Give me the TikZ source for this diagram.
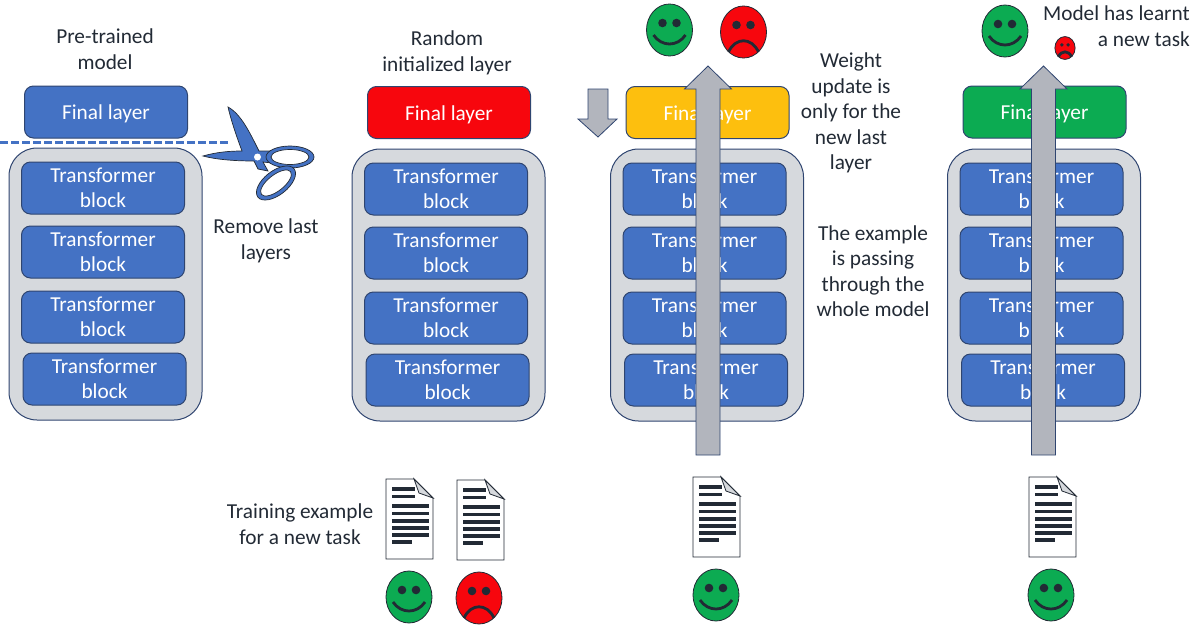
\documentclass[tikz,border=0pt]{standalone}
\usepackage{fontspec}
\setmainfont{Carlito}
\definecolor{blockblue}{HTML}{4472C4}
\definecolor{inkblue}{HTML}{222A35}
\definecolor{edgeblue}{HTML}{2F4570}
\definecolor{stackgray}{HTML}{D6D9DD}
\definecolor{flowgray}{HTML}{B2B5BD}
\definecolor{goodgreen}{HTML}{0CAB52}
\definecolor{badred}{HTML}{F7060D}
\definecolor{updateyellow}{HTML}{FDBF0E}
\tikzset{
  every node/.style={text=inkblue, align=center, inner sep=0pt, font=\fontsize{21.3}{25.4}\selectfont},
  stack/.style={draw=edgeblue, fill=stackgray, line width=1pt, rounded corners=28pt, minimum width=193pt, minimum height=272pt},
  layer/.style={draw=edgeblue, fill=blockblue, text=white, line width=1pt, rounded corners=9pt, minimum width=163pt, minimum height=52pt},
  flow/.style={draw=edgeblue, fill=flowgray, line width=0.8pt},
  happy/.pic={
    \draw [fill=goodgreen, draw=inkblue, line width=0.8pt] (0,0) ellipse (23pt and 26pt);
    \fill [inkblue] (-7,-7) circle (4.3pt) (7,-7) circle (4.3pt);
    \draw [inkblue, line width=2.8pt] (-16,5) .. controls (-8,17) and (8,17) .. (16,5);
  },
  sad/.pic={
    \draw [fill=badred, draw=inkblue, line width=0.8pt] (0,0) ellipse (23pt and 26pt);
    \fill [inkblue] (-7,-7) circle (4.3pt) (7,-7) circle (4.3pt);
    \draw [inkblue, line width=2.8pt] (-15,20) .. controls (-8,5) and (8,5) .. (15,20);
  },
  doc/.pic={
    \draw [fill=white, draw=inkblue, line width=0.9pt] (0,0) -- (28,0) -- (47,19) -- (47,80) -- (0,80) -- cycle;
    \draw [fill=stackgray, draw=inkblue, line width=0.8pt] (28,0) -- (47,19) -- (33,14) -- cycle;
    \foreach \h/\w in {10/23, 17.5/23, 27/37, 34.5/37, 42/37, 49/37, 56/37, 63/20}
    {
      \draw [inkblue, line width=3.2pt] (6,\h) -- (6+\w,\h);
    }
  }
}

\begin{document}
\begin{tikzpicture}[x=1pt, y=-1pt]
  \useasboundingbox (0,0) rectangle (1196,624);

  % one stack per column, the last block sits a little to the right
  \foreach \c/\x/\sy/\fy/\fc in {a/105.5/284/112/blockblue, b/448.5/285/112.5/badred, c/707/285/112.5/updateyellow, d/1044/285/112/goodgreen}
  {
    \node [stack] (stack\c) at (\x, \sy) {};
    \node [layer, fill=\fc, text height=18pt, text depth=3pt] (final\c) at (\x+0.5, \fy) {Final layer};
    \node [layer] (block\c1) at (\x-2.5, \sy-96) {\vspace*{2pt}Transformer\\block};
    \node [layer] (block\c2) at (\x-2.5, \sy-32) {\vspace*{2pt}Transformer\\block};
    \node [layer] (block\c3) at (\x-2.5, \sy+33) {\vspace*{2pt}Transformer\\block};
    \node [layer] (block\c4) at (\x-1, \sy+95) {\vspace*{2pt}Transformer\\block};
  }

  % cut line and scissors
  \draw [blockblue, line width=3pt, dash pattern=on 8pt off 3pt] (0,142) -- (228,142);
  \draw [fill=blockblue, draw=inkblue, line width=0.7pt]
    (228,107) .. controls (241,114) and (250,133) .. (259,151)
    -- (272,151) -- (272,163) -- (263,162) -- (268,171) -- (258,169) -- (254,161)
    .. controls (238,161) and (218,160) .. (203,156)
    .. controls (217,152) and (230,151) .. (242,151)
    .. controls (236,135) and (231,120) .. (228,107) -- cycle;
  \draw [fill=blockblue, draw=inkblue, line width=0.7pt] (290,157) ellipse (24pt and 11pt);
  \draw [fill=white, draw=inkblue, line width=0.7pt] (290,157) ellipse (19pt and 7.5pt);
  \draw [rotate around={38:(276,183)}, fill=blockblue, draw=inkblue, line width=0.7pt] (276,183) ellipse (23pt and 12pt);
  \draw [rotate around={38:(276,183)}, fill=white, draw=inkblue, line width=0.7pt] (276,183) ellipse (18.5pt and 8pt);
  \fill [white] (257.5,157) circle (3.5pt);

  % examples going up through the model
  \foreach \x in {708, 1043.5}
  {
    \draw [flow] (\x-12,455) -- (\x-12,89) -- (\x-23.5,89) -- (\x,66) -- (\x+23.5,89) -- (\x+12,89) -- (\x+12,455) -- cycle;
  }
  \draw [flow] (588,89) -- (608,89) -- (608,119) -- (617,119) -- (598,137) -- (578,119) -- (588,119) -- cycle;

  % faces and documents
  \pic at (669.5,30) {happy};
  \pic at (743.5,32) {sad};
  \pic at (1005,31) {happy};
  \pic [scale=0.44] at (1065,48) {sad};
  \pic at (409,597) {happy};
  \pic at (479,598) {sad};
  \pic at (716,595) {happy};
  \pic at (1051,595) {happy};
  \pic at (386,479) {doc};
  \pic at (457,480) {doc};
  \pic at (693,477) {doc};
  \pic at (1029,477) {doc};

  \node (pretrained) at (105,49) {Pre-trained\\model};
  \node (random) at (447,53) {Random\\initialized layer};
  \node (remove) at (266,241) {Remove last\\layers};
  \node (weight) at (851,113) {Weight\\update is\\only for the\\new last\\layer};
  \node (passing) at (873,271) {The example\\is passing\\through the\\whole model};
  \node (training) at (300,524) {Training example\\for a new task};
  \node [align=right, anchor=east] (learnt) at (1190,26) {Model has learnt\\a new task};
\end{tikzpicture}
\end{document}
